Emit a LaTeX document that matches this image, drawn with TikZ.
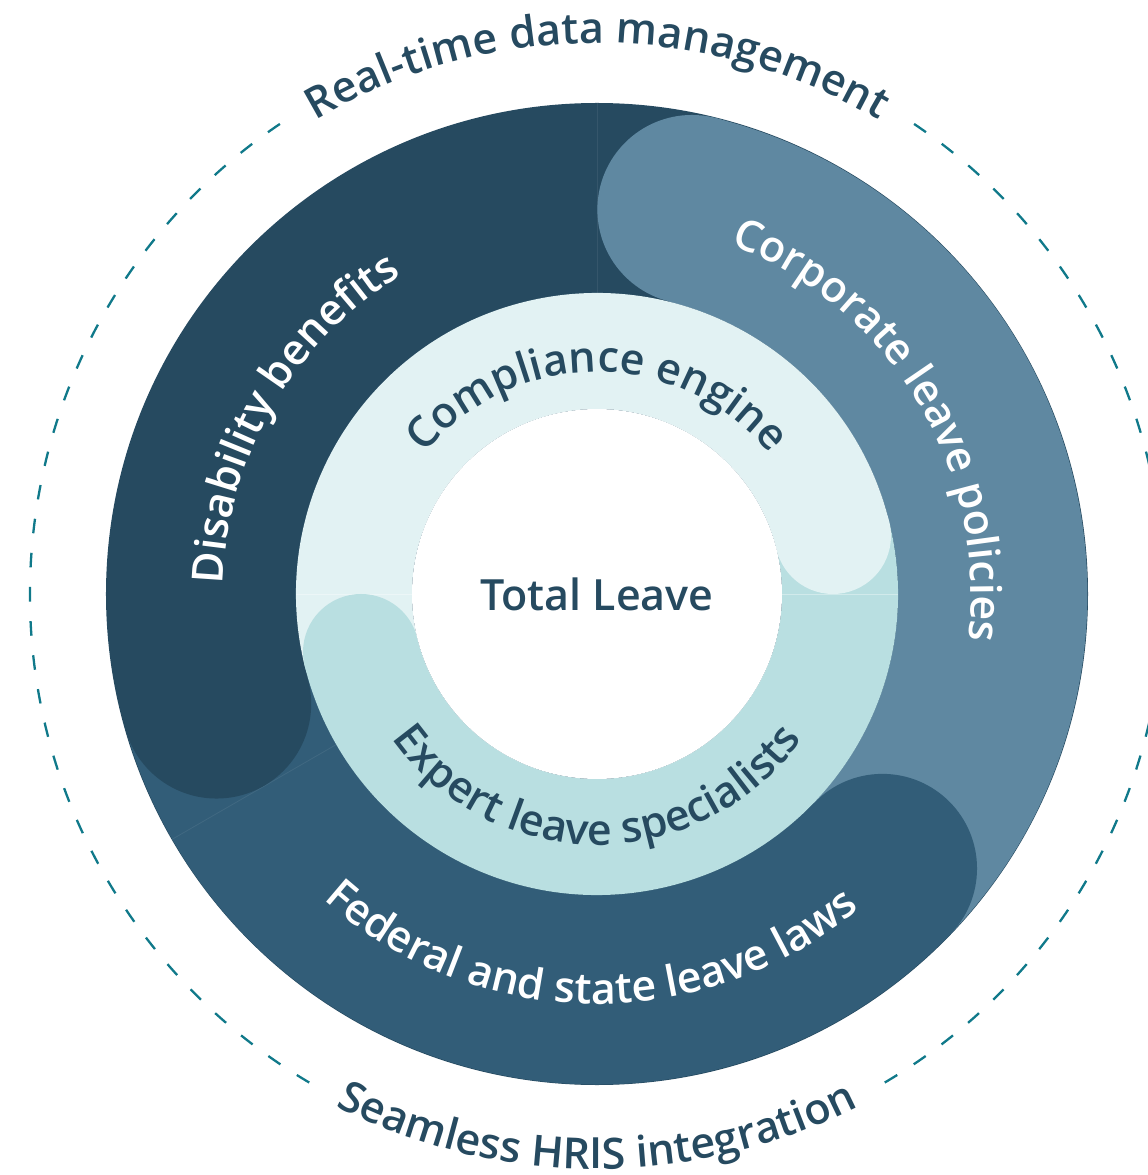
\documentclass[tikz,border=0pt]{standalone}
\usepackage{fontspec}
\usetikzlibrary{decorations.text}
\IfFontExistsTF{Open Sans SemiBold}{\newfontfamily\osfont{Open Sans SemiBold}}{%
  \IfFontExistsTF{Open Sans Semibold}{\newfontfamily\osfont{Open Sans Semibold}}{%
    \newfontfamily\osfont{Open Sans}[FakeBold=0.4]}}
\definecolor{navy}{HTML}{264A60}
\definecolor{fedc}{HTML}{325D78}
\definecolor{corpc}{HTML}{5F88A1}
\definecolor{compc}{HTML}{E2F2F3}
\definecolor{expc}{HTML}{B9DFE1}
\definecolor{tealc}{HTML}{10798A}
\newcommand\lblfont{\osfont\fontsize{43}{50}\selectfont}
\tikzset{
  seam/.style={white, opacity=0.07, line width=0.8},
  dashring/.style={tealc, line width=2.3, dash pattern=on 14.6 off 19.6},
  curvetext/.style={decorate, decoration={text along path, text align=center, text={#1}}},
}
\begin{document}
\begin{tikzpicture}[x=1pt,y=1pt]
\useasboundingbox (-597,-581) rectangle (551,594);
% outer ring base
\fill[navy] (0,0) circle[radius=491];
% federal sector
\fill[fedc] (196.12:490.4) arc[start angle=196.12,end angle=316.12,radius=490.4]
  -- (316.12:301) arc[start angle=316.12,end angle=196.12,radius=301] -- cycle;
% corporate sector
\fill[corpc] (316.12:490.4) arc[start angle=316.12,end angle=436.12,radius=490.4]
  -- (436.12:301) arc[start angle=436.12,end angle=316.12,radius=301] -- cycle;
% seams
\draw[seam] (90:301) -- (90:491);
\draw[seam] (210:301) -- (210:491);
% caps
\fill[corpc] (76.12:396) circle[radius=94.6];
\fill[navy] (196.12:396) circle[radius=94.6];
\fill[fedc] (316.12:396) circle[radius=94.6];
% inner ring
\fill[compc] (13.81:301) arc[start angle=13.81,end angle=193.81,radius=301]
  -- (193.81:185) arc[start angle=193.81,end angle=13.81,radius=185] -- cycle;
\fill[expc] (193.81:301) arc[start angle=193.81,end angle=373.81,radius=301]
  -- (373.81:185) arc[start angle=373.81,end angle=193.81,radius=185] -- cycle;
\draw[seam, opacity=0.35] (0:185) -- (0:301);
\draw[seam, opacity=0.35] (180:185) -- (180:301);
\fill[compc] (13.81:243) circle[radius=58];
\fill[expc] (193.81:243) circle[radius=58];
% centre
\fill[white] (0,0) circle[radius=185];
\node[text=navy, font=\lblfont] (total) at (0,0) {Total Leave};
% band labels
\path[curvetext={|\lblfont\color{white}|Disability benefits}]
  (190:374) arc[start angle=190,end angle=110,radius=374];
\path[curvetext={|\lblfont\color{white}|Corporate leave policies}]
  (81:374) arc[start angle=81,end angle=-19,radius=374];
\path[curvetext={|\lblfont\color{white}|Federal and state leave laws}]
  (219:410) arc[start angle=219,end angle=319,radius=410];
\path[curvetext={|\lblfont\color{navy}|Compliance engine}]
  (150:222) arc[start angle=150,end angle=30,radius=222];
\path[curvetext={|\lblfont\color{navy}|Expert leave specialists}]
  (210:251) arc[start angle=210,end angle=330,radius=251];
% outer labels
\path[curvetext={|\lblfont\color{navy}|Real-time data management}]
  (130:551) arc[start angle=130,end angle=50,radius=551];
\path[curvetext={|\lblfont\color{navy}|Seamless HRIS integration}]
  (230:575) arc[start angle=230,end angle=310,radius=575];
% dashed ring
\draw[dashring] (-59.5:567) arc[start angle=-59.5,end angle=56,radius=567];
\draw[dashring] (124:567) arc[start angle=124,end angle=239.5,radius=567];
\end{tikzpicture}
\end{document}
